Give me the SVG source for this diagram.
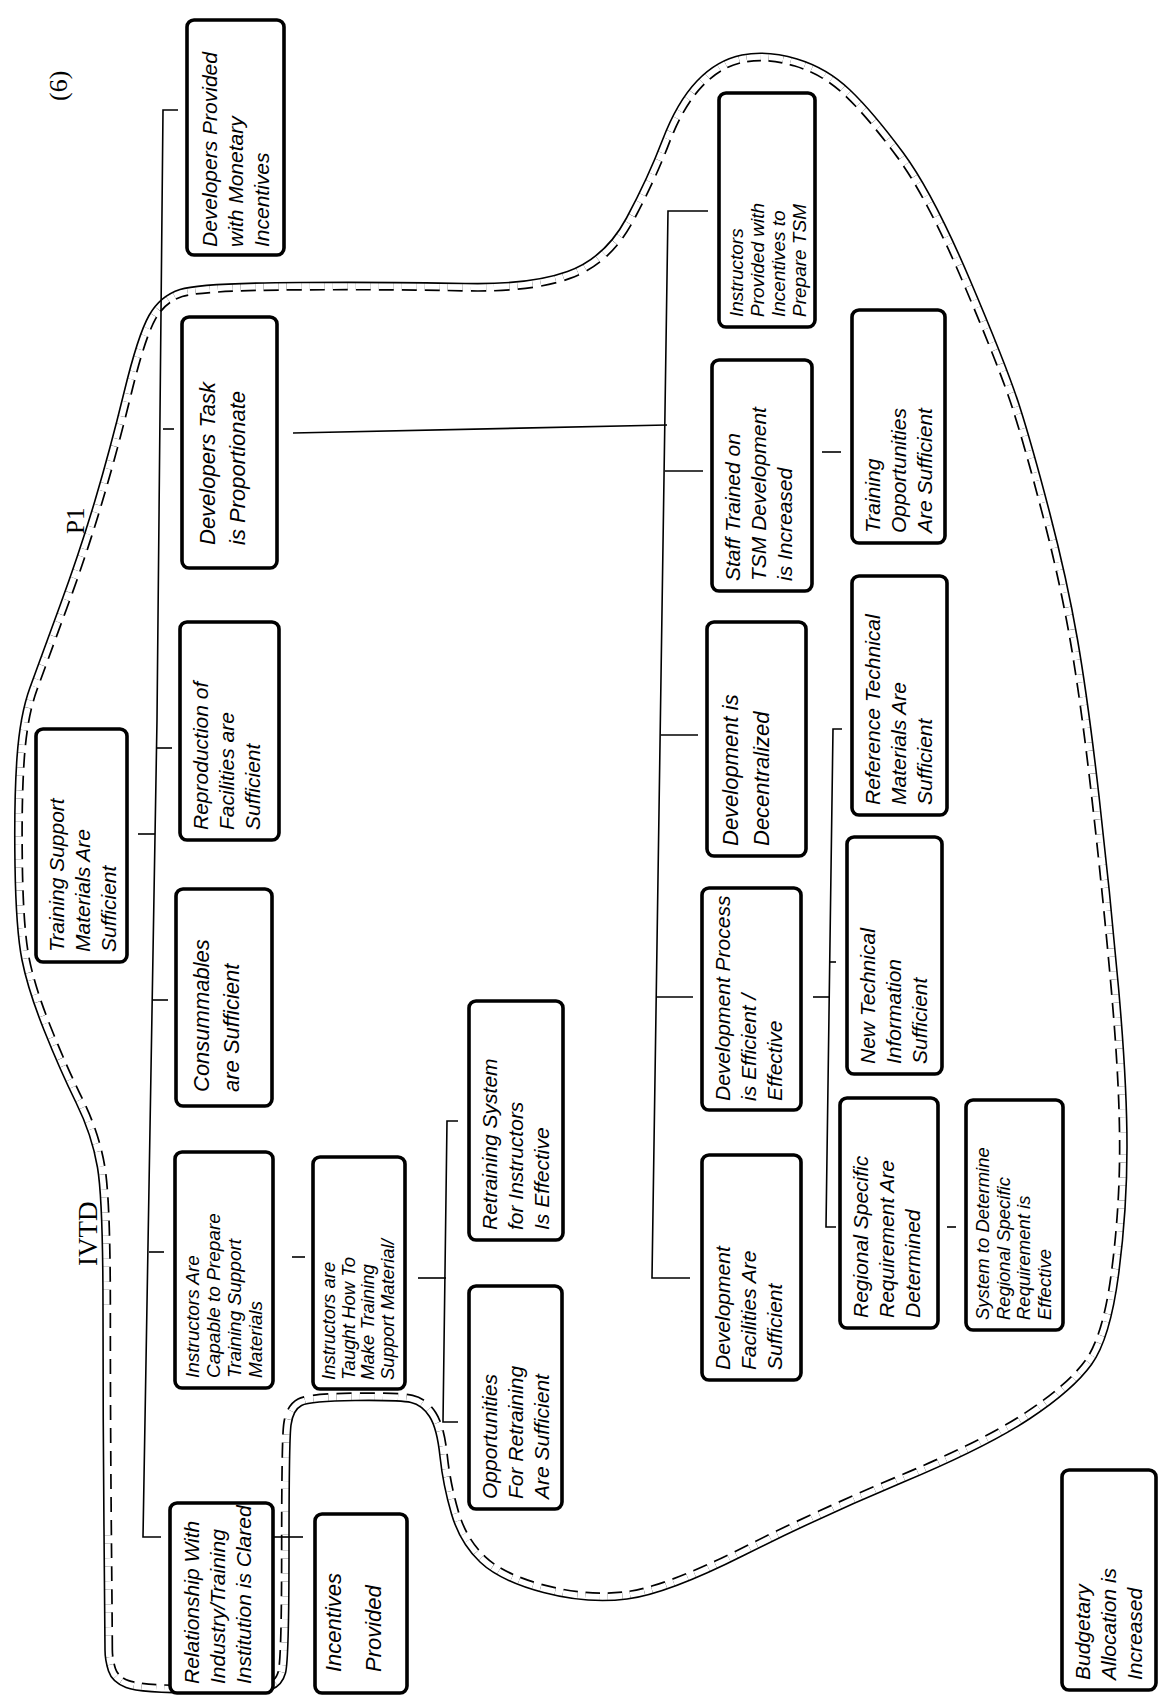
<svg xmlns="http://www.w3.org/2000/svg" xmlns:xlink="http://www.w3.org/1999/xlink" width="1158" height="1701" viewBox="0 0 1158 1701">
<style>
.box{fill:#fff;stroke:#000;stroke-width:3.6}
.t{font-family:"Liberation Sans",Arial,sans-serif;font-style:italic;font-size:21px;fill:#000}
.t2{font-size:22px}
.t4{font-size:19px}
.t18{font-size:18.5px}
.lbl{font-family:"Liberation Serif","Times New Roman",serif;fill:#000}
.c{fill:none;stroke:#000;stroke-width:1.6}
</style>
<defs>
<path id="bd" d="M105,1650 Q105,1640 104,1530 Q103,1420 103,1310 Q103,1200 97.5,1167.5 Q92,1135 76,1102.5 Q60,1070 44,1030 Q28,990 22,960 Q16,930 15,865 Q14,800 17,757.5 Q20,715 30,687.5 Q40,660 60,605.5 Q80,551 95,500.5 Q110,450 124,392.5 Q138,335 149,315.5 Q160,296 180,289.5 Q200,283 300,282.5 Q400,282 465,283.5 Q530,285 567.5,271.5 Q605,258 626.5,218 Q648,178 662.5,140 Q677,102 697,81 Q717,60 742,55 Q767,50 797,59 Q827,68 850,90 Q873,112 903,152.5 Q933,193 970,280 Q1007,367 1019.5,406 Q1032,445 1049.5,512 Q1067,579 1077.5,639.5 Q1088,700 1099,796 Q1110,892 1118.5,987.5 Q1127,1083 1127,1147 Q1127,1211 1118.5,1275 Q1110,1339 1091.5,1364.5 Q1073,1390 1030,1418.5 Q987,1447 903.5,1482 Q820,1517 743.5,1555.5 Q667,1594 627,1599 Q587,1604 543.5,1592.5 Q500,1581 480,1562 Q460,1543 451.5,1514 Q443,1485 440,1456.5 Q437,1428 429.5,1416.5 Q422,1405 411,1402.5 Q400,1400 355,1400.5 Q310,1401 301.5,1405.5 Q293,1410 291,1425 Q289,1440 289,1550 Q289,1660 285.5,1673 Q282,1686 271,1689.5 Q260,1693 200,1693 Q140,1693 126,1687.5 Q112,1682 108.5,1671 Q105,1660 105,1650 Z"/>
<clipPath id="inside"><use href="#bd" xlink:href="#bd"/></clipPath>
</defs>
<rect width="1158" height="1701" fill="#fff"/>

<g id="boundary">
<g clip-path="url(#inside)">
<use href="#bd" xlink:href="#bd" fill="none" stroke="#000" stroke-width="16.4" stroke-dasharray="15 8"/>
<use href="#bd" xlink:href="#bd" fill="none" stroke="#fff" stroke-width="13" stroke-dasharray="15 8"/>
</g>
<use href="#bd" xlink:href="#bd" fill="none" stroke="#000" stroke-width="1.6"/>
</g>

<g id="labels">
<text class="lbl" font-size="26" transform="translate(67,101) rotate(-90)">(6)</text>
<text class="lbl" font-size="25" transform="translate(84,534) rotate(-90)">P1</text>
<text class="lbl" font-size="27" transform="translate(97,1266) rotate(-90)">IVTD</text>
</g>

<g id="connectors" class="c">
<polyline points="178,110 163,110 157,720 143,1537 161,1537"/>
<line x1="163" y1="429" x2="174" y2="429"/>
<line x1="157" y1="748" x2="172" y2="748"/>
<line x1="138" y1="834" x2="155" y2="834"/>
<line x1="153" y1="1000" x2="168" y2="1000"/>
<line x1="149" y1="1252" x2="164" y2="1252"/>
<line x1="293" y1="433" x2="667" y2="425"/>
<polyline points="708,211 668,211 652,1278 690,1278"/>
<line x1="665" y1="471" x2="703" y2="471"/>
<line x1="661" y1="735" x2="698" y2="735"/>
<line x1="656" y1="997" x2="693" y2="997"/>
<line x1="822" y1="452" x2="841" y2="452"/>
<line x1="813" y1="997" x2="830" y2="997"/>
<polyline points="842,729 833,729 826,1227 836,1227"/>
<line x1="830" y1="962" x2="836" y2="962"/>
<line x1="947" y1="1227" x2="956" y2="1227"/>
<line x1="292" y1="1257" x2="305" y2="1257"/>
<line x1="418" y1="1278" x2="446" y2="1278"/>
<polyline points="458,1121 447,1121 443,1422 458,1422"/>
<line x1="273" y1="1537" x2="303" y2="1537"/>
</g>

<g id="n-dev-monetary">
<rect class="box" x="187" y="20" width="97" height="235" rx="7"/>
<text class="t" transform="translate(217,247) rotate(-90)"><tspan x="0" y="0">Developers Provided</tspan><tspan x="0" dy="26">with Monetary</tspan><tspan x="0" dy="26">Incentives</tspan></text>
</g>
<g id="n-dev-task">
<rect class="box" x="182" y="317" width="95" height="251" rx="7"/>
<text class="t t2" transform="translate(215,545) rotate(-90)"><tspan x="0" y="0">Developers Task</tspan><tspan x="0" dy="30">is Proportionate</tspan></text>
</g>
<g id="n-reproduction">
<rect class="box" x="180" y="622" width="99" height="218" rx="7"/>
<text class="t" transform="translate(208,830) rotate(-90)"><tspan x="0" y="0">Reproduction of</tspan><tspan x="0" dy="26">Facilities are</tspan><tspan x="0" dy="26">Sufficient</tspan></text>
</g>
<g id="n-consumables">
<rect class="box" x="176" y="889" width="96" height="217" rx="7"/>
<text class="t t2" transform="translate(209,1092) rotate(-90)"><tspan x="0" y="0">Consummables</tspan><tspan x="0" dy="30">are Sufficient</tspan></text>
</g>
<g id="n-instr-capable">
<rect class="box" x="175" y="1152" width="98" height="236" rx="7"/>
<text class="t t4" transform="translate(199,1378) rotate(-90)"><tspan x="0" y="0">Instructors Are</tspan><tspan x="0" dy="21">Capable to Prepare</tspan><tspan x="0" dy="21">Training Support</tspan><tspan x="0" dy="21">Materials</tspan></text>
</g>
<g id="n-relationship">
<rect class="box" x="170" y="1503" width="103" height="190" rx="7"/>
<text class="t" font-size="17.5" transform="translate(199,1684) rotate(-90)"><tspan x="0" y="0">Relationship With</tspan><tspan x="0" dy="26">Industry/Training</tspan><tspan x="0" dy="26">Institution is Clared</tspan></text>
</g>
<g id="n-tsm-sufficient">
<rect class="box" x="36" y="729" width="91" height="233" rx="7"/>
<text class="t" transform="translate(64,952) rotate(-90)"><tspan x="0" y="0">Training Support</tspan><tspan x="0" dy="26">Materials Are</tspan><tspan x="0" dy="26">Sufficient</tspan></text>
</g>
<g id="n-incentives">
<rect class="box" x="315" y="1514" width="92" height="179" rx="7"/>
<text class="t t2" transform="translate(341,1672) rotate(-90)"><tspan x="0" y="0">Incentives</tspan><tspan x="0" dy="40">Provided</tspan></text>
</g>
<g id="n-instr-taught">
<rect class="box" x="313" y="1157" width="92" height="232" rx="7"/>
<text class="t t18" transform="translate(335,1380) rotate(-90)"><tspan x="0" y="0">Instructors are</tspan><tspan x="0" dy="19.5">Taught How To</tspan><tspan x="0" dy="19.5">Make Training</tspan><tspan x="0" dy="19.5">Support Material/</tspan></text>
</g>
<g id="n-retraining-system">
<rect class="box" x="469" y="1001" width="94" height="239" rx="7"/>
<text class="t" transform="translate(497,1230) rotate(-90)"><tspan x="0" y="0">Retraining System</tspan><tspan x="0" dy="26">for Instructors</tspan><tspan x="0" dy="26">Is Effective</tspan></text>
</g>
<g id="n-opportunities">
<rect class="box" x="469" y="1286" width="93" height="223" rx="7"/>
<text class="t" transform="translate(497,1499) rotate(-90)"><tspan x="0" y="0">Opportunities</tspan><tspan x="0" dy="26">For Retraining</tspan><tspan x="0" dy="26">Are Sufficient</tspan></text>
</g>
<g id="n-instr-incentives">
<rect class="box" x="719" y="93" width="96" height="234" rx="7"/>
<text class="t t4" transform="translate(743,317) rotate(-90)"><tspan x="0" y="0">Instructors</tspan><tspan x="0" dy="21">Provided with</tspan><tspan x="0" dy="21">Incentives to</tspan><tspan x="0" dy="21">Prepare TSM</tspan></text>
</g>
<g id="n-staff-trained">
<rect class="box" x="712" y="360" width="100" height="231" rx="7"/>
<text class="t" transform="translate(740,581) rotate(-90)"><tspan x="0" y="0">Staff Trained on</tspan><tspan x="0" dy="26">TSM Development</tspan><tspan x="0" dy="26">is Increased</tspan></text>
</g>
<g id="n-training-opps">
<rect class="box" x="852" y="310" width="93" height="233" rx="7"/>
<text class="t" transform="translate(880,533) rotate(-90)"><tspan x="0" y="0">Training</tspan><tspan x="0" dy="26">Opportunities</tspan><tspan x="0" dy="26">Are Sufficient</tspan></text>
</g>
<g id="n-decentralized">
<rect class="box" x="707" y="622" width="99" height="234" rx="7"/>
<text class="t t2" transform="translate(738,846) rotate(-90)"><tspan x="0" y="0">Development is</tspan><tspan x="0" dy="31">Decentralized</tspan></text>
</g>
<g id="n-reference">
<rect class="box" x="852" y="576" width="95" height="239" rx="7"/>
<text class="t" transform="translate(880,805) rotate(-90)"><tspan x="0" y="0">Reference Technical</tspan><tspan x="0" dy="26">Materials Are</tspan><tspan x="0" dy="26">Sufficient</tspan></text>
</g>
<g id="n-dev-process">
<rect class="box" x="702" y="888" width="99" height="222" rx="7"/>
<text class="t" font-size="20" transform="translate(730,1101) rotate(-90)"><tspan x="0" y="0">Development Process</tspan><tspan x="0" dy="26">is Efficient /</tspan><tspan x="0" dy="26">Effective</tspan></text>
</g>
<g id="n-new-tech">
<rect class="box" x="847" y="837" width="95" height="237" rx="7"/>
<text class="t" transform="translate(875,1064) rotate(-90)"><tspan x="0" y="0">New Technical</tspan><tspan x="0" dy="26">Information</tspan><tspan x="0" dy="26">Sufficient</tspan></text>
</g>
<g id="n-dev-facilities">
<rect class="box" x="702" y="1155" width="99" height="225" rx="7"/>
<text class="t" transform="translate(730,1370) rotate(-90)"><tspan x="0" y="0">Development</tspan><tspan x="0" dy="26">Facilities Are</tspan><tspan x="0" dy="26">Sufficient</tspan></text>
</g>
<g id="n-regional">
<rect class="box" x="840" y="1098" width="98" height="230" rx="7"/>
<text class="t" transform="translate(868,1318) rotate(-90)"><tspan x="0" y="0">Regional Specific</tspan><tspan x="0" dy="26">Requirement Are</tspan><tspan x="0" dy="26">Determined</tspan></text>
</g>
<g id="n-system-determine">
<rect class="box" x="966" y="1100" width="97" height="230" rx="7"/>
<text class="t t18" transform="translate(989,1320) rotate(-90)"><tspan x="0" y="0">System to Determine</tspan><tspan x="0" dy="20.5">Regional Specific</tspan><tspan x="0" dy="20.5">Requirement is</tspan><tspan x="0" dy="20.5">Effective</tspan></text>
</g>
<g id="n-budgetary">
<rect class="box" x="1062" y="1470" width="94" height="220" rx="7"/>
<text class="t" transform="translate(1090,1680) rotate(-90)"><tspan x="0" y="0">Budgetary</tspan><tspan x="0" dy="26">Allocation is</tspan><tspan x="0" dy="26">Increased</tspan></text>
</g>
</svg>
